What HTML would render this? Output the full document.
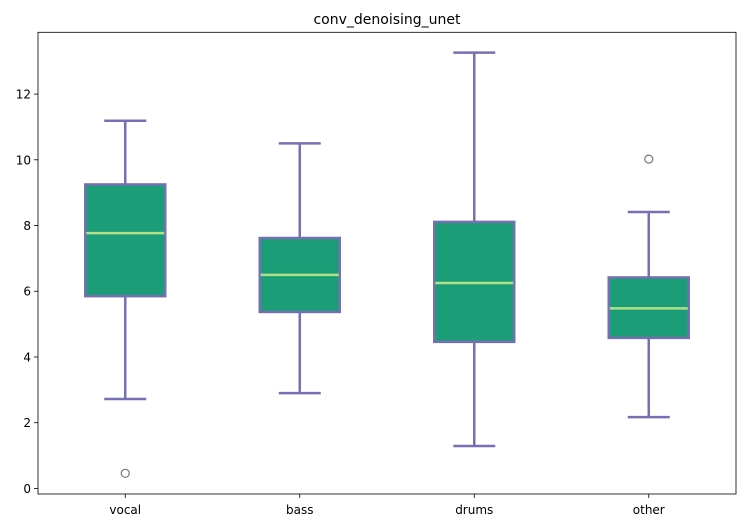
<!DOCTYPE html>
<html><head><meta charset="utf-8"><style>
html,body{margin:0;padding:0;background:#fff;}
svg{display:block;font-family:"DejaVu Sans","Liberation Sans",sans-serif;}
</style></head><body>
<svg id="chart" width="744" height="528"></svg>
<script>
const categories = ["vocal","bass","drums","other"];
const whiskerLow = [2.72, 2.9, 1.29, 2.17];
const q1 = [5.85, 5.37, 4.46, 4.58];
const median = [7.77, 6.5, 6.25, 5.48];
const q3 = [9.25, 7.62, 8.11, 6.42];
const whiskerHigh = [11.19, 10.5, 13.26, 8.41];
const outliers = [[0.46], [], [], [10.02]];
const yTicks = [0, 2, 4, 6, 8, 10, 12];

const NS = "http://www.w3.org/2000/svg";
const svg = document.getElementById("chart");
const L = 38, R = 736, T = 32.3, B = 494;
const yMin = -0.17, yMax = 13.88;
const y = v => B - (v - yMin) / (yMax - yMin) * (B - T);
const x = i => L + (i + 0.5) * (R - L) / categories.length;

function mk(tag, attrs, parent) {
  const e = document.createElementNS(NS, tag);
  for (const k in attrs) e.setAttribute(k, attrs[k]);
  (parent || svg).appendChild(e);
  return e;
}

const title = mk("text", {x: (L + R) / 2, y: 24, "text-anchor": "middle", "font-size": 14, fill: "#000"});
title.textContent = "conv_denoising_unet";



const yAxis = mk("g", {});


yTicks.forEach(t => {
  mk("line", {x1: L - 4, x2: L, y1: y(t), y2: y(t), stroke: "#000", "stroke-width": 0.8}, yAxis);
  const tx = mk("text", {x: L - 7, y: y(t) + 4.5, "text-anchor": "end", "font-size": 12, fill: "#000"}, yAxis);
  tx.textContent = t;
  
  
});

const xAxis = mk("g", {});


const bw = 80, cw = 42, edge = "#7570b3";
categories.forEach((c, i) => {
  const cx = x(i);
  mk("line", {x1: cx, x2: cx, y1: B, y2: B + 4, stroke: "#000", "stroke-width": 0.8}, xAxis);
  const tx = mk("text", {x: cx, y: B + 20, "text-anchor": "middle", "font-size": 12, fill: "#000"}, xAxis);
  tx.textContent = c;
  
  

  const g = mk("g", {});
  
  
  mk("line", {x1: cx, x2: cx, y1: y(q3[i]), y2: y(whiskerHigh[i]), stroke: edge, "stroke-width": 2.5}, g);
  mk("line", {x1: cx, x2: cx, y1: y(q1[i]), y2: y(whiskerLow[i]), stroke: edge, "stroke-width": 2.5}, g);
  mk("line", {x1: cx - cw / 2, x2: cx + cw / 2, y1: y(whiskerHigh[i]), y2: y(whiskerHigh[i]), stroke: edge, "stroke-width": 2.5}, g);
  mk("line", {x1: cx - cw / 2, x2: cx + cw / 2, y1: y(whiskerLow[i]), y2: y(whiskerLow[i]), stroke: edge, "stroke-width": 2.5}, g);
  mk("rect", {x: cx - bw / 2, y: y(q3[i]), width: bw, height: y(q1[i]) - y(q3[i]), fill: "#1b9e77", stroke: edge, "stroke-width": 2.5}, g);
  mk("line", {x1: cx - bw / 2 + 1, x2: cx + bw / 2 - 1, y1: y(median[i]), y2: y(median[i]), stroke: "#b2df8a", "stroke-width": 2.5}, g);
  outliers[i].forEach(o => {
    const p = mk("circle", {cx: cx, cy: y(o), r: 4, fill: "none", stroke: "#777", "stroke-width": 1.2}, g);
    
    
  });
});

const frame = mk("rect", {x: L, y: T, width: R - L, height: B - T, fill: "none", stroke: "#000", "stroke-width": 0.8});


</script>
</body></html>
